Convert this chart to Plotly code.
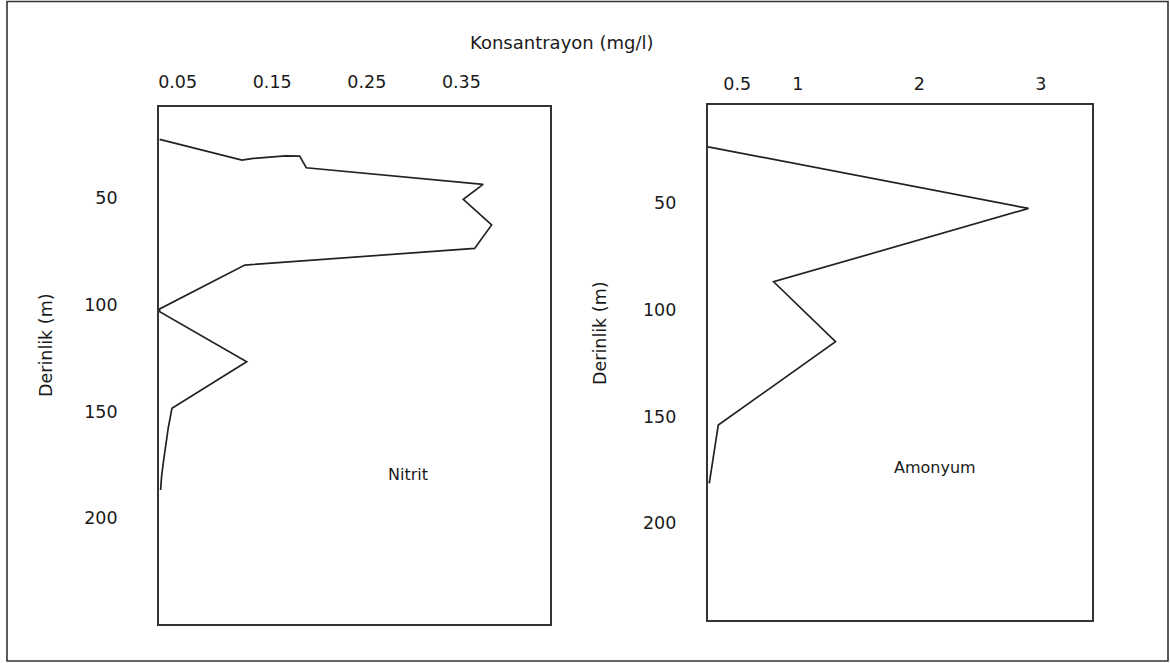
import plotly.graph_objects as go

# ---- data ----
nitrit_conc = [0.031, 0.118, 0.130, 0.164, 0.179, 0.186, 0.373, 0.352, 0.382, 0.364,
               0.121, 0.031, 0.031, 0.123, 0.044, 0.040, 0.035, 0.033, 0.032]
nitrit_depth = [22.4, 32.1, 31.3, 30.1, 30.2, 35.7, 43.5, 50.5, 62.5, 73.5,
                81.3, 101.9, 103.2, 126.6, 148.5, 157.9, 173.5, 180.5, 186.8]

amonyum_conc = [0.26, 2.90, 0.80, 1.31, 0.344, 0.317, 0.284, 0.27]
amonyum_depth = [23.5, 52.4, 86.8, 114.9, 154.0, 164.0, 175.0, 181.3]

nitrit_ticks = [0.05, 0.15, 0.25, 0.35]
amonyum_ticks = [0.5, 1, 2, 3]
depth_ticks = [50, 100, 150, 200]

W, H = 1170, 663
FONT = "DejaVu Sans, Verdana, sans-serif"
TXT = "#1a1a1a"
LINE = "#222222"

fig = go.Figure()
fig.add_trace(go.Scatter(x=nitrit_conc, y=nitrit_depth, mode="lines",
                         line=dict(color=LINE, width=1.7), xaxis="x", yaxis="y",
                         showlegend=False, name="Nitrit"))
fig.add_trace(go.Scatter(x=amonyum_conc, y=amonyum_depth, mode="lines",
                         line=dict(color=LINE, width=1.7), xaxis="x2", yaxis="y2",
                         showlegend=False, name="Amonyum"))

def px_x(p):
    return p / W

def px_y(p):
    return 1 - p / H

axis_common = dict(showline=True, mirror=True, linecolor="#333333", linewidth=1.7,
                   showgrid=False, zeroline=False,
                   tickfont=dict(family=FONT, size=17.5, color=TXT))

def label(text, x, y, size, angle=0):
    return dict(text=text, x=px_x(x), y=px_y(y), xref="paper", yref="paper",
                xanchor="center", yanchor="middle", textangle=angle,
                showarrow=False, font=dict(family=FONT, size=size, color=TXT))

fig.update_layout(
    width=W, height=H,
    margin=dict(l=0, r=0, t=0, b=0),
    paper_bgcolor="white", plot_bgcolor="white",
    xaxis=dict(domain=[px_x(159), px_x(550)], range=[0.0303, 0.4437], side="top",
               tickvals=nitrit_ticks, ticktext=[str(v) for v in nitrit_ticks],
               ticks="outside", ticklen=10, tickcolor="rgba(0,0,0,0)",
               anchor="y", **axis_common),
    yaxis=dict(domain=[px_y(624), px_y(107)], range=[249.6, 7.2],
               tickvals=depth_ticks, ticks="outside", ticklen=36,
               tickcolor="rgba(0,0,0,0)", anchor="x", **axis_common),
    xaxis2=dict(domain=[px_x(707.7), px_x(1092.3)], range=[0.257, 3.425], side="top",
                tickvals=amonyum_ticks, ticktext=[str(v) for v in amonyum_ticks],
                ticks="outside", ticklen=6, tickcolor="rgba(0,0,0,0)",
                anchor="y2", **axis_common),
    yaxis2=dict(domain=[px_y(620), px_y(105)], range=[245.4, 3.9],
                tickvals=depth_ticks, ticks="outside", ticklen=26,
                tickcolor="rgba(0,0,0,0)", anchor="x2", **axis_common),
    shapes=[dict(type="rect", xref="paper", yref="paper",
                 x0=px_x(7), x1=px_x(1168), y0=px_y(661), y1=px_y(1.5),
                 line=dict(color="#333333", width=1.6))],
    annotations=[
        label("Konsantrayon (mg/l)", 562, 43, 18),
        label("Derinlik (m)", 46, 345, 17.5, -90),
        label("Derinlik (m)", 600, 333, 17.5, -90),
        label("Nitrit", 408, 474, 16),
        label("Amonyum", 935, 467, 16),
    ],
)

fig.write_html("out.html", config=dict(displayModeBar=False),
               post_script="document.body.style.margin='0';document.body.style.overflow='hidden';")
